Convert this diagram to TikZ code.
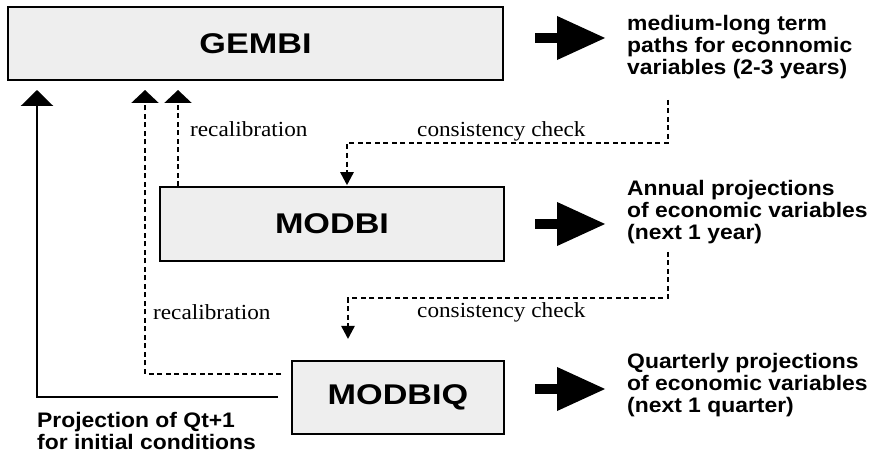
\documentclass[tikz,border=0pt]{standalone}
\usepackage{fontspec}
\setmainfont{Liberation Serif}[FakeStretch=1.08]
\newfontfamily\hvw{Liberation Sans}[FakeStretch=1.2]
\newfontfamily\hvb{Liberation Sans}[FakeStretch=1.09]
\usetikzlibrary{arrows.meta}
\definecolor{boxfill}{HTML}{EEEEEE}
\begin{document}
\begin{tikzpicture}[x=1bp,y=-1bp,
  modelbox/.style={draw=black, line width=1.5bp, fill=boxfill, inner sep=0pt,
    font=\hvw\bfseries\fontsize{28.5bp}{30bp}\selectfont},
  outtext/.style={anchor=base west, inner sep=0pt,
    font=\hvb\bfseries\fontsize{21bp}{21bp}\selectfont},
  linklabel/.style={anchor=base west, inner sep=0pt,
    font=\fontsize{21.5bp}{22bp}\selectfont},
  bigarrow/.style={line width=10bp, -{Triangle[length=49bp,width=41bp]}},
  feedsolid/.style={line width=2.5bp, -{Triangle[length=16bp,width=32bp]}},
  feeddash/.style={line width=2.5bp, dash pattern=on 5bp off 3.5bp,
    -{Triangle[length=13bp,width=27bp]}},
  checkdash/.style={line width=2.5bp, dash pattern=on 5bp off 3.5bp,
    -{Triangle[length=13bp,width=13bp]}}
]
\useasboundingbox (0,0) rectangle (873,455);

% model boxes
\node[modelbox, minimum width=495bp, minimum height=73bp] (gembi) at (255.5,43.5) {GEMBI};
\node[modelbox, minimum width=344bp, minimum height=74bp] (modbi) at (332,224) {MODBI};
\node[modelbox, minimum width=212bp, minimum height=73bp] (modbiq) at (398,397.5) {MODBIQ};

% output texts
\node[outtext] (out1) at (627,31) {\begin{tabular}[t]{@{}l@{}}medium-long term\\paths for econnomic\\variables (2-3 years)\end{tabular}};
\node[outtext] (out2) at (627,196) {\begin{tabular}[t]{@{}l@{}}Annual projections\\of economic variables\\(next 1 year)\end{tabular}};
\node[outtext] (out3) at (627,369) {\begin{tabular}[t]{@{}l@{}}Quarterly projections\\of economic variables\\(next 1 quarter)\end{tabular}};
\node[outtext, font=\hvb\bfseries\fontsize{21bp}{22bp}\selectfont] (init) at (37,427) {\begin{tabular}[t]{@{}l@{}}Projection of Qt+1\\for initial conditions\end{tabular}};

% big output arrows
\coordinate (a1s) at (535,38);  \coordinate (a1e) at (606,38);
\coordinate (a2s) at (535,224); \coordinate (a2e) at (606,224);
\coordinate (a3s) at (535,389); \coordinate (a3e) at (606,389);
\draw[bigarrow] (a1s) -- (a1e);
\draw[bigarrow] (a2s) -- (a2e);
\draw[bigarrow] (a3s) -- (a3e);

% feedback to GEMBI
\coordinate (g1) at (37,90);
\coordinate (g2) at (145,90);
\coordinate (g3) at (178,90);
\coordinate (q1) at (278,397);
\coordinate (q2) at (281,374);
\draw[feedsolid] (q1) -| (g1);
\draw[feeddash] (q2) -| (g2);
\draw[feeddash] (modbi.north -| g3) -- (g3);

% consistency checks
\coordinate (c1) at (668,100);
\coordinate (m1) at (347,143);
\coordinate (c2) at (668,252);
\coordinate (m2) at (348,298);
\coordinate (t2) at (348,339);
\draw[checkdash, shorten >=1bp] (c1) |- (m1) -- (m1 |- modbi.north);
\draw[checkdash] (c2) |- (m2) -- (t2);

% labels
\node[linklabel] (rc1) at (190,137) {recalibration};
\node[linklabel] (rc2) at (153,320) {recalibration};
\node[linklabel] (cc1) at (417,137) {consistency check};
\node[linklabel] (cc2) at (417,318) {consistency check};
\end{tikzpicture}
\end{document}
